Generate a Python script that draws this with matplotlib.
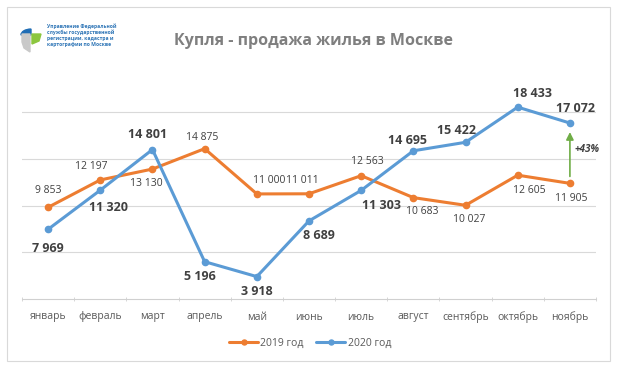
import matplotlib
matplotlib.use("Agg")
import matplotlib.pyplot as plt
from matplotlib.patches import Rectangle, Wedge, Polygon

plt.rcParams['font.family'] = ['Open Sans', 'DejaVu Sans']

months = ["январь", "февраль", "март", "апрель", "май", "июнь", "июль",
          "август", "сентябрь", "октябрь", "ноябрь"]
sales_2019 = [9853, 12197, 13130, 14875, 11000, 11011, 12563, 10683, 10027, 12605, 11905]
sales_2020 = [7969, 11320, 14801, 5196, 3918, 8689, 11303, 14695, 15422, 18433, 17072]
series_names = ["2019 год", "2020 год"]
title = "Купля - продажа жилья в Москве"
growth_label = "+43%"
org_text = "Управление Федеральной\nслужбы государственной\nрегистрации, кадастра и\nкартографии по Москве"

# label offsets in pixels (dx, dy; dy up)
off_2019 = [(0, 17), (-9, 13), (-6, -14), (-2, 11), (12, 13), (-7, 13),
            (6, 14), (9, -14), (4, -14), (12, -15), (1, -15)]
off_2020 = [(0, -19), (8, -17), (-5, 15), (-5, -15), (0, -15), (10, -15),
            (20, -15), (-6, 10), (-9, 12), (15, 14), (6, 15)]

W, H = 620, 369
fig = plt.figure(figsize=(W / 100, H / 100), dpi=100)
fig.patch.set_facecolor("white")

# outer border
fig.patches.append(Rectangle((7 / W, 1 - 361 / H), 603 / W, 354 / H,
                             transform=fig.transFigure, fill=False,
                             edgecolor="#d9d9d9", lw=0.8))

ax = fig.add_axes([22 / W, 1 - 299 / H, 574 / W, (299 - 65.5) / H])
x = list(range(len(months)))
c19, c20 = "#ed7d31", "#5b9bd5"
ax.plot(x, sales_2019, color=c19, lw=2.2, marker="o", ms=4.5, label=series_names[0],
        solid_capstyle="round", zorder=3)
ax.plot(x, sales_2020, color=c20, lw=2.2, marker="o", ms=4.5, label=series_names[1],
        solid_capstyle="round", zorder=3)

ax.set_xlim(-0.5, len(months) - 0.5)
ax.set_ylim(2000, 22000)
ax.set_yticks([6000, 10000, 14000, 18000])
ax.yaxis.grid(True, color="#d9d9d9", lw=0.8)
ax.set_axisbelow(True)
ax.tick_params(axis="y", left=False, labelleft=False)
for s in ["top", "right", "left"]:
    ax.spines[s].set_visible(False)
ax.spines["bottom"].set_color("#d0d0d0")
ax.spines["bottom"].set_linewidth(0.8)
ax.set_xticks(x)
ax.set_xticklabels(months, fontsize=7.5, color="#595959")
ax.tick_params(axis="x", which="major", length=0, pad=9)
ax.set_xticks([i - 0.5 for i in range(len(months) + 1)], minor=True)
ax.tick_params(axis="x", which="minor", length=3, color="#d0d0d0", direction="inout")

def fmt(v):
    return f"{v:,}".replace(",", " ")

for i, v in enumerate(sales_2019):
    dx, dy = off_2019[i]
    ax.annotate(fmt(v), (i, v), xytext=(dx, dy), textcoords="offset pixels",
                ha="center", va="center", fontsize=7.5, color="#404040", zorder=4)
for i, v in enumerate(sales_2020):
    dx, dy = off_2020[i]
    ax.annotate(fmt(v), (i, v), xytext=(dx, dy), textcoords="offset pixels",
                ha="center", va="center", fontsize=9, fontweight="bold",
                color="#404040", zorder=4)

last = len(months) - 1
ax.annotate("", xy=(last, sales_2020[-1]), xytext=(last, sales_2019[-1]),
            arrowprops=dict(arrowstyle="-|>", color="#70ad47", lw=1.2,
                            shrinkA=5, shrinkB=6.5, mutation_scale=11))
ax.annotate(growth_label, (last, sales_2020[-1]), xytext=(17, -26),
            textcoords="offset pixels", ha="center", va="center",
            fontsize=7.2, fontweight="bold", style="italic", color="#404040")

fig.text(313 / W, 1 - 41 / H, title, ha="center", va="center",
         fontsize=11.5, fontweight="bold", color="#7f7f7f")

fig.legend(loc="center", bbox_to_anchor=(310 / W, 1 - 343 / H), ncol=2,
           frameon=False, fontsize=7.5, labelcolor="#595959",
           handlelength=2.8, handletextpad=0.2, columnspacing=1.2,
           markerscale=0.8)

# logo
def fp(px, py):
    return (px / W, 1 - py / H)

cx, cy, r = 31, 35, 10
fig.patches.append(Wedge(fp(cx, cy), r / W, 90, 180, transform=fig.transFigure,
                         color="#1f6db5"))
fig.patches.append(Polygon([fp(22, 34), fp(30, 34), fp(30, 52), fp(24, 48), fp(22, 42)],
                           closed=True, transform=fig.transFigure, color="#c9c9c9"))
fig.patches.append(Polygon([fp(32, 34), fp(41, 34), fp(39, 41), fp(32, 44)],
                           closed=True, transform=fig.transFigure, color="#8cc63f"))
fig.text(47 / W, 1 - 35 / H, org_text, ha="left", va="center", fontsize=3.6,
         fontweight="bold", color="#2e75b6", linespacing=1.15)

fig.savefig("out.png", dpi=100)
